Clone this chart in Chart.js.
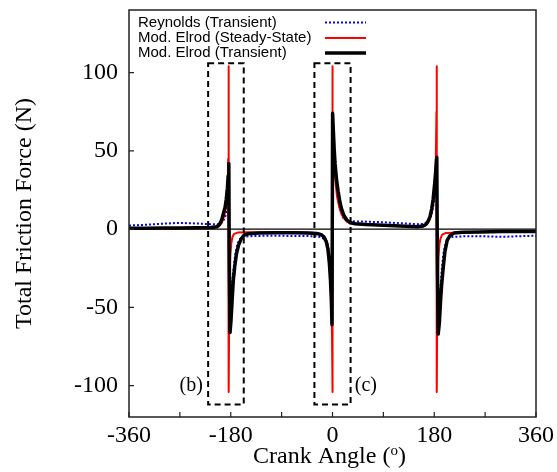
<!DOCTYPE html>
<html>
<head>
<meta charset="utf-8">
<script src="https://cdn.jsdelivr.net/npm/chart.js@4.4.0/dist/chart.umd.min.js"></script>
<style>
  html, body { margin: 0; padding: 0; background: #fff; }
</style>
</head>
<body>
<canvas id="frictionChart" width="557" height="472"></canvas>
<script>
// axis ticks
const xTickValues = [-360, -270, -180, -90, 0, 90, 180, 270, 360];
const xTickLabels = ['-360', '', '-180', '', '0', '', '180', '', '360'];
const yTickValues = [-100, -50, 0, 50, 100];

const seriesNames = ['Reynolds (Transient)', 'Mod. Elrod (Steady-State)', 'Mod. Elrod (Transient)'];

// [crank angle (deg), friction force (N)]
const reynoldsTransient = [
  [-360, 2.3], [-330, 2.8], [-300, 3.5], [-270, 4], [-240, 3.6], [-215, 3.2], [-200, 3.2],
  [-195, 4.5], [-191, 7], [-188, 10], [-186, 13], [-184.5, 16], [-183.5, 18],
  [-182.8, -35], [-181, -45], [-179, -40], [-176, -28], [-172, -16], [-168, -9], [-163, -6],
  [-158, -4.8], [-140, -4.4], [-110, -4.2], [-80, -4.3], [-50, -4.4], [-30, -4.5], [-20, -5.2],
  [-14, -6.5], [-10, -8], [-8, -11], [-5.5, -18], [-3.3, -38], [-1.5, -50], [-0.6, -52],
  [0.2, 52], [2, 50], [4.4, 45], [6.5, 35], [8.5, 27], [12.7, 14], [18.6, 7.5], [25, 5.4],
  [35, 5], [60, 4.8], [90, 4.4], [120, 3.8], [150, 3.2], [162, 3.4], [168, 4.5], [172, 7],
  [175.5, 10], [178.5, 15], [181, 22], [183, 32], [184.5, 38],
  [185.3, -40], [187, -55], [189, -48], [191, -37], [193, -27], [196, -16], [200, -9],
  [204, -6], [210, -5], [230, -4.6], [270, -4.6], [300, -4.9], [330, -4.5], [360, -4.2]
];

const elrodSteady = [
  [-360, 0.3], [-300, 0.4], [-250, 0.5], [-215, 0.8], [-205, 1.2], [-200, 2], [-196, 4],
  [-192, 8], [-189, 13], [-187, 19], [-185.5, 28], [-184.5, 45], [-183.8, 104],
  [-183.5, -104], [-182.8, -55], [-182, -30], [-180.5, -16], [-179, -9], [-177, -5],
  [-174, -3], [-168, -2.2], [-150, -2], [-100, -2], [-60, -2], [-35, -2.3], [-22, -3],
  [-15, -4.5], [-10, -8], [-7, -13], [-4.5, -22], [-3, -32], [-1.8, -48], [-0.8, -70],
  [-0.3, -104], [0, 104], [0.5, 75], [1.5, 56], [3, 42], [5, 31], [8, 21], [12, 14],
  [16, 9.5], [20, 7], [25, 5], [31, 3.6], [45, 3.2], [80, 2.6], [120, 2], [155, 1.4],
  [163, 2], [168, 3.5], [172, 6], [175.5, 11], [178.5, 18], [181, 28], [182.8, 45],
  [183.9, 75], [184.3, 104], [184.6, -104], [185.2, -60], [186, -35], [187.5, -18],
  [189, -10], [191, -6], [194, -3.5], [200, -2.5], [240, -2], [300, -1.6], [360, -1.5]
];

const elrodTransient = [
  [-360, 0.5], [-330, 0.6], [-300, 0.8], [-270, 0.8], [-240, 0.9], [-215, 1], [-205, 1.5],
  [-200, 3], [-196, 6], [-193, 10], [-190, 14], [-188, 19], [-186, 26], [-184.5, 34],
  [-183.4, 42], [-182.6, -20], [-181.2, -66], [-179.5, -58], [-177.5, -45], [-175.5, -33],
  [-173, -24], [-170, -16], [-166, -10], [-162, -6.5], [-157, -4], [-150, -3], [-130, -2.5],
  [-100, -2.3], [-70, -2.3], [-45, -2.5], [-28, -2.8], [-20, -3.5], [-15, -5], [-11, -8],
  [-8, -13], [-5.5, -22], [-3.5, -33], [-2, -46], [-0.9, -61],
  [0.2, 74], [1.5, 63], [3, 51], [4.5, 42], [7, 32], [10, 24], [13, 17.5], [16, 13],
  [20, 9], [25, 6], [31, 4.2], [40, 3.5], [60, 3], [90, 2.5], [120, 2], [150, 1.5],
  [160, 2], [165, 3], [169, 5], [172.5, 8], [175.5, 13], [178, 19], [181, 30], [183, 39],
  [184.5, 46], [185.5, -20], [187, -67], [189, -60], [191, -47], [193, -36], [196, -24],
  [199, -14], [203, -7], [208, -4], [215, -2.5], [230, -2], [260, -1.8], [300, -1.5],
  [330, -1.5], [360, -1.5]
];

// dashed zoom boxes (b) and (c), in data units
const boxLabels = ['(b)', '(c)'];
const boxAngleMin = [-220, -32];
const boxAngleMax = [-157, 32];
const boxForceMin = [-112, -112];
const boxForceMax = [106, 106];
const boxLabelAngle = [-250, 59];
const boxLabelForce = [-100, -100];

const toPoints = arr => arr.map(p => ({ x: p[0], y: p[1] }));

const serif = '"Liberation Serif", "Times New Roman", serif';
const sans = '"Liberation Sans", Arial, sans-serif';

const decorPlugin = {
  id: 'decor',
  beforeDatasetsDraw(chart) {
    const { ctx, chartArea: a, scales: { y } } = chart;
    const y0 = y.getPixelForValue(0);
    ctx.save();
    ctx.strokeStyle = '#000';
    ctx.lineWidth = 1.2;
    ctx.beginPath();
    ctx.moveTo(a.left, y0);
    ctx.lineTo(a.right, y0);
    ctx.stroke();
    ctx.restore();
  },
  afterDatasetsDraw(chart) {
    const { ctx, chartArea: a, scales: { x, y } } = chart;
    ctx.save();

    // dashed boxes
    ctx.strokeStyle = '#000';
    ctx.lineWidth = 2;
    ctx.setLineDash([6, 4]);
    for (let i = 0; i < boxLabels.length; i++) {
      const l = x.getPixelForValue(boxAngleMin[i]);
      const r = x.getPixelForValue(boxAngleMax[i]);
      const t = y.getPixelForValue(boxForceMax[i]);
      const b = y.getPixelForValue(boxForceMin[i]);
      ctx.strokeRect(l, t, r - l, b - t);
    }
    ctx.setLineDash([]);
    ctx.fillStyle = '#000';
    ctx.font = '20px ' + serif;
    ctx.textAlign = 'center';
    ctx.textBaseline = 'middle';
    for (let i = 0; i < boxLabels.length; i++) {
      ctx.fillText(boxLabels[i], x.getPixelForValue(boxLabelAngle[i]), y.getPixelForValue(boxLabelForce[i]));
    }

    // legend
    ctx.font = '15px ' + sans;
    ctx.textAlign = 'left';
    const rows = [22.5, 38, 53];
    chart.data.datasets.forEach((ds, i) => {
      const ry = a.top + rows[i] - 10;
      ctx.fillStyle = '#000';
      ctx.fillText(ds.label, a.left + 9, ry);
      ctx.strokeStyle = ds.borderColor;
      ctx.lineWidth = ds.borderWidth;
      ctx.setLineDash(ds.borderDash || []);
      ctx.beginPath();
      ctx.moveTo(a.left + 196, ry);
      ctx.lineTo(a.left + 237, ry);
      ctx.stroke();
    });
    ctx.setLineDash([]);

    // frame
    ctx.strokeStyle = '#222';
    ctx.lineWidth = 1.5;
    ctx.strokeRect(a.left, a.top, a.right - a.left, a.bottom - a.top);

    // inward ticks
    ctx.lineWidth = 1.2;
    ctx.beginPath();
    yTickValues.forEach(v => {
      const py = y.getPixelForValue(v);
      ctx.moveTo(a.left, py);
      ctx.lineTo(a.left + 5, py);
    });
    xTickValues.forEach(v => {
      const px = x.getPixelForValue(v);
      ctx.moveTo(px, a.bottom);
      ctx.lineTo(px, a.bottom - 5);
    });
    ctx.stroke();

    // x axis title with superscript o
    const cx = (a.left + a.right) / 2 - 3;
    const base = 463;
    ctx.fillStyle = '#000';
    ctx.textBaseline = 'alphabetic';
    ctx.font = '24px ' + serif;
    const p1 = 'Crank Angle (';
    const p3 = ')';
    const w1 = ctx.measureText(p1).width;
    const w3 = ctx.measureText(p3).width;
    ctx.font = '15px ' + serif;
    const w2 = ctx.measureText('o').width;
    const start = cx - (w1 + w2 + w3) / 2;
    ctx.font = '24px ' + serif;
    ctx.fillText(p1, start, base);
    ctx.fillText(p3, start + w1 + w2, base);
    ctx.font = '15px ' + serif;
    ctx.fillText('o', start + w1, base - 8);

    ctx.restore();
  }
};

const ctx = document.getElementById('frictionChart').getContext('2d');

new Chart(ctx, {
  type: 'scatter',
  data: {
    datasets: [
      {
        label: seriesNames[0],
        data: toPoints(reynoldsTransient),
        borderColor: '#0000ff',
        borderWidth: 2,
        borderDash: [2, 2],
        order: 2
      },
      {
        label: seriesNames[1],
        data: toPoints(elrodSteady),
        borderColor: '#ff0000',
        borderWidth: 2,
        order: 1
      },
      {
        label: seriesNames[2],
        data: toPoints(elrodTransient),
        borderColor: '#000000',
        borderWidth: 3.5,
        order: 0
      }
    ].map(ds => Object.assign(ds, {
      showLine: true,
      pointRadius: 0,
      pointHoverRadius: 0,
      tension: 0,
      fill: false,
      borderJoinStyle: 'round'
    }))
  },
  options: {
    responsive: false,
    animation: false,
    layout: { padding: { top: 10, right: 21, left: 0, bottom: 0 } },
    plugins: {
      legend: { display: false },
      tooltip: { enabled: false }
    },
    scales: {
      x: {
        type: 'linear',
        min: -360,
        max: 360,
        afterBuildTicks: s => { s.ticks = xTickValues.map(v => ({ value: v })); },
        afterFit: s => { s.height = 55; s.paddingLeft = 0; s.paddingRight = 0; },
        grid: { display: false, drawTicks: false },
        border: { display: false },
        ticks: {
          autoSkip: false,
          maxRotation: 0,
          padding: 4,
          color: '#000',
          font: { family: serif, size: 24 },
          callback: v => xTickLabels[xTickValues.indexOf(v)] ?? ''
        }
      },
      y: {
        type: 'linear',
        min: -120,
        max: 140,
        afterBuildTicks: s => { s.ticks = yTickValues.map(v => ({ value: v })); },
        afterFit: s => { s.width = 129; s.paddingTop = 0; s.paddingBottom = 0; },
        grid: { display: false, drawTicks: false },
        border: { display: false },
        ticks: {
          padding: 11,
          color: '#000',
          font: { family: serif, size: 24 },
          callback: v => String(v)
        },
        title: {
          display: true,
          text: 'Total Friction Force (N)',
          color: '#000',
          font: { family: serif, size: 24, weight: 'normal' },
          padding: { top: 10, bottom: 0 }
        }
      }
    }
  },
  plugins: [decorPlugin]
});
</script>
</body>
</html>
